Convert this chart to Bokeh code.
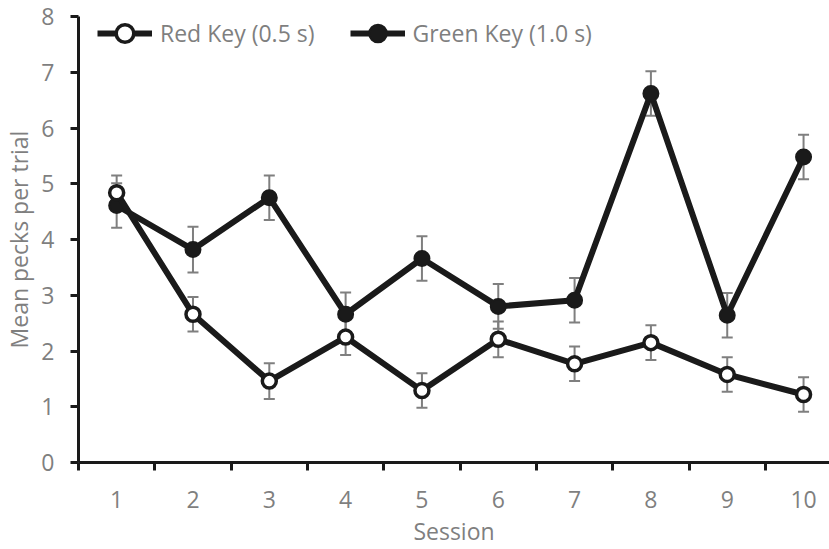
from bokeh.plotting import figure
from bokeh.models import (ColumnDataSource, Whisker, TeeHead, FixedTicker,
                          Range1d, Legend, LegendItem)
from bokeh.embed import file_html
from bokeh.resources import INLINE

# Mean pecks per trial by session, with standard-error bars
sessions = [1, 2, 3, 4, 5, 6, 7, 8, 9, 10]
red_mean = [4.84, 2.66, 1.46, 2.25, 1.29, 2.21, 1.77, 2.15, 1.58, 1.22]
red_err = [0.31, 0.31, 0.32, 0.32, 0.31, 0.32, 0.31, 0.31, 0.31, 0.31]
green_mean = [4.61, 3.82, 4.75, 2.66, 3.66, 2.80, 2.91, 6.62, 2.64, 5.48]
green_err = [0.40, 0.41, 0.40, 0.39, 0.40, 0.40, 0.40, 0.40, 0.40, 0.40]
y_ticks = [0, 1, 2, 3, 4, 5, 6, 7, 8]
series_labels = ["Red Key (0.5 s)", "Green Key (1.0 s)"]

FONT = "Open Sans"
GREY = "#7f7f7f"
INK = "#1a1a1a"
FS = "23px"

red_src = ColumnDataSource(dict(
    x=sessions, y=red_mean,
    upper=[m + e for m, e in zip(red_mean, red_err)],
    lower=[m - e for m, e in zip(red_mean, red_err)]))
green_src = ColumnDataSource(dict(
    x=sessions, y=green_mean,
    upper=[m + e for m, e in zip(green_mean, green_err)],
    lower=[m - e for m, e in zip(green_mean, green_err)]))

p = figure(width=829, height=549, x_range=Range1d(0.5, 10.34), y_range=Range1d(0, 8),
           output_backend="svg", toolbar_location=None,
           min_border_left=78, min_border_right=0, min_border_top=16, min_border_bottom=87)
p.outline_line_color = None
p.xgrid.visible = False
p.ygrid.visible = False

# error bars sit underneath the lines
for src in (green_src, red_src):
    p.add_layout(Whisker(base="x", upper="upper", lower="lower", source=src,
                         line_color=GREY, line_width=2,
                         upper_head=TeeHead(size=11, line_color=GREY, line_width=2),
                         lower_head=TeeHead(size=11, line_color=GREY, line_width=2)))

g_line = p.line("x", "y", source=green_src, line_width=6, line_color=INK)
g_pts = p.scatter("x", "y", source=green_src, size=15, fill_color=INK,
                  line_color=INK, line_width=2)
r_line = p.line("x", "y", source=red_src, line_width=6, line_color=INK)
r_pts = p.scatter("x", "y", source=red_src, size=14, fill_color="white",
                  line_color=INK, line_width=3.5)

legend = Legend(items=[LegendItem(label=series_labels[0], renderers=[r_line, r_pts]),
                       LegendItem(label=series_labels[1], renderers=[g_line, g_pts])],
                orientation="horizontal", location=(19, 407),
                glyph_width=55, glyph_height=44, label_standoff=8, spacing=35,
                padding=0, margin=0, border_line_color=None, background_fill_alpha=0,
                label_text_font=FONT, label_text_font_size=FS,
                label_text_color=GREY)
p.add_layout(legend)

# x axis: ticks between sessions, labels at session centres
xa = p.xaxis[0]
xa.ticker = FixedTicker(ticks=sessions, minor_ticks=[s - 0.5 for s in sessions] + [10.5])
xa.major_tick_out = 0
xa.major_tick_in = 0
xa.minor_tick_out = 8
xa.minor_tick_in = 0
xa.minor_tick_line_width = 3
xa.minor_tick_line_color = INK
xa.axis_line_width = 3
xa.axis_line_color = INK
xa.axis_label = "Session"
xa.major_label_standoff = 20
xa.axis_label_standoff = 4

ya = p.yaxis[0]
ya.ticker = FixedTicker(ticks=y_ticks)
ya.minor_tick_out = 0
ya.minor_tick_in = 0
ya.major_tick_out = 8
ya.major_tick_in = 0
ya.major_tick_line_width = 3
ya.major_tick_line_color = INK
ya.axis_line_width = 3
ya.axis_line_color = INK
ya.axis_label = "Mean pecks per trial"
ya.major_label_standoff = 16
ya.axis_label_standoff = 3

for ax in (xa, ya):
    ax.major_label_text_font = FONT
    ax.major_label_text_font_size = FS
    ax.major_label_text_color = GREY
    ax.axis_label_text_font = FONT
    ax.axis_label_text_font_size = FS
    ax.axis_label_text_color = GREY
    ax.axis_label_text_font_style = "normal"

open("out.html", "w").write(file_html(p, INLINE))
